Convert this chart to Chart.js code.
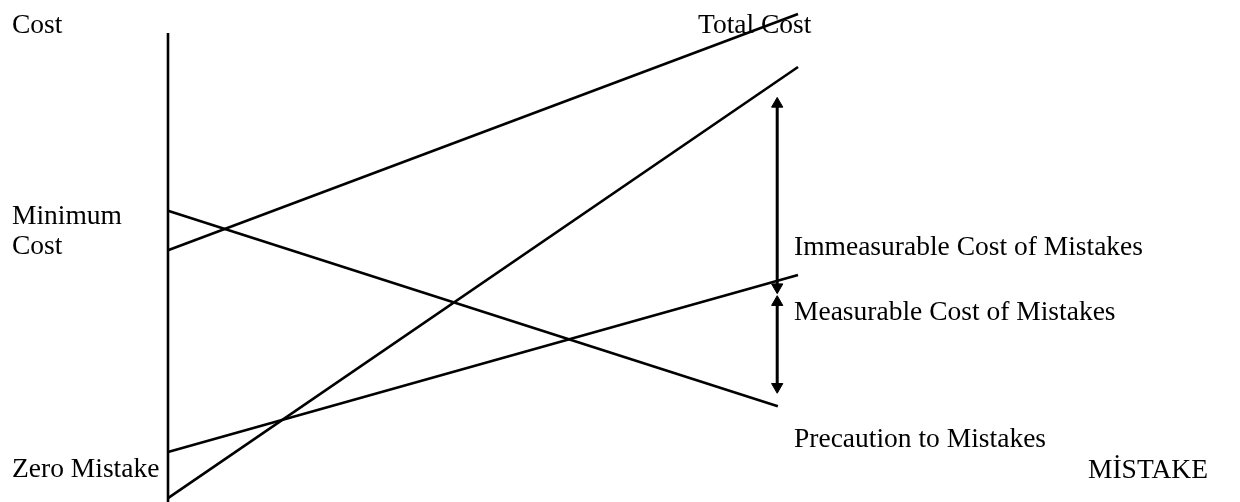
<!DOCTYPE html>
<html>
<head>
<meta charset="utf-8">
<title>Cost of Mistakes</title>
<script src="https://cdn.jsdelivr.net/npm/chart.js@4"></script>
<style>
  html, body { margin: 0; padding: 0; background: #fff; }
  canvas { display: block; }
</style>
</head>
<body>
<canvas id="grafico" width="1240" height="502"></canvas>
<script>
// x: 0 = cost axis, 10 = right end of the lines; y: 0 = zero mistake, 10 = top
const eixoX = [0, 0];
const eixoY = [-0.1, 9.61];

const totalCustoX = [0, 10];
const totalCustoY = [5.14, 10];

const retaInclinadaX = [0, 10];
const retaInclinadaY = [0.04, 8.91];

const precaucaoX = [0, 9.68];
const precaucaoY = [5.95, 1.93];

const mensuravelX = [0, 10];
const mensuravelY = [0.99, 4.63];

// double arrows (centres of the arrow heads)
const setaSuperiorX = [9.67, 9.67];
const setaSuperiorY = [8.15, 4.38];
const setaInferiorX = [9.67, 9.67];
const setaInferiorY = [4.07, 2.33];

const rotulos = [
  { texto: 'Cost', x: 12, y: 33 },
  { texto: 'Total Cost', x: 698, y: 33 },
  { texto: 'Minimum', x: 12, y: 224 },
  { texto: 'Cost', x: 12, y: 254 },
  { texto: 'Immeasurable Cost of Mistakes', x: 794, y: 255 },
  { texto: 'Measurable Cost of Mistakes', x: 794, y: 320 },
  { texto: 'Precaution to Mistakes', x: 794, y: 447 },
  { texto: 'Zero Mistake', x: 12, y: 477 },
  { texto: 'MİSTAKE', x: 1088, y: 478 }
];

function pontos(xs, ys) {
  return xs.map((x, i) => ({ x: x, y: ys[i] }));
}

function reta(xs, ys) {
  return {
    data: pontos(xs, ys),
    showLine: true,
    borderColor: '#000',
    borderWidth: 2.6,
    pointRadius: 0,
    clip: false
  };
}

function seta(xs, ys) {
  return {
    data: pontos(xs, ys),
    showLine: true,
    borderColor: '#000',
    borderWidth: 3,
    pointStyle: 'triangle',
    pointRadius: 6.5,
    pointRotation: [0, 180],
    pointBackgroundColor: '#000',
    pointBorderColor: '#000',
    pointBorderWidth: 1,
    clip: false
  };
}

const rotulosPlugin = {
  id: 'rotulos',
  afterDatasetsDraw(chart) {
    const ctx = chart.ctx;
    ctx.save();
    ctx.fillStyle = '#000';
    ctx.font = '27.5px "Liberation Serif", "Times New Roman", serif';
    ctx.textAlign = 'left';
    ctx.textBaseline = 'alphabetic';
    rotulos.forEach(r => ctx.fillText(r.texto, r.x, r.y));
    ctx.restore();
  }
};

const ctx = document.getElementById('grafico').getContext('2d');
new Chart(ctx, {
  type: 'scatter',
  data: {
    datasets: [
      reta(eixoX, eixoY),
      reta(totalCustoX, totalCustoY),
      reta(retaInclinadaX, retaInclinadaY),
      reta(precaucaoX, precaucaoY),
      reta(mensuravelX, mensuravelY),
      seta(setaSuperiorX, setaSuperiorY),
      seta(setaInferiorX, setaInferiorY)
    ]
  },
  options: {
    responsive: false,
    animation: false,
    layout: { autoPadding: false, padding: { left: 168, right: 442, top: 14, bottom: 2 } },
    scales: {
      x: { type: 'linear', min: 0, max: 10, display: false },
      y: { type: 'linear', min: 0, max: 10, display: false }
    },
    plugins: {
      legend: { display: false },
      tooltip: { enabled: false }
    }
  },
  plugins: [rotulosPlugin]
});
</script>
</body>
</html>
